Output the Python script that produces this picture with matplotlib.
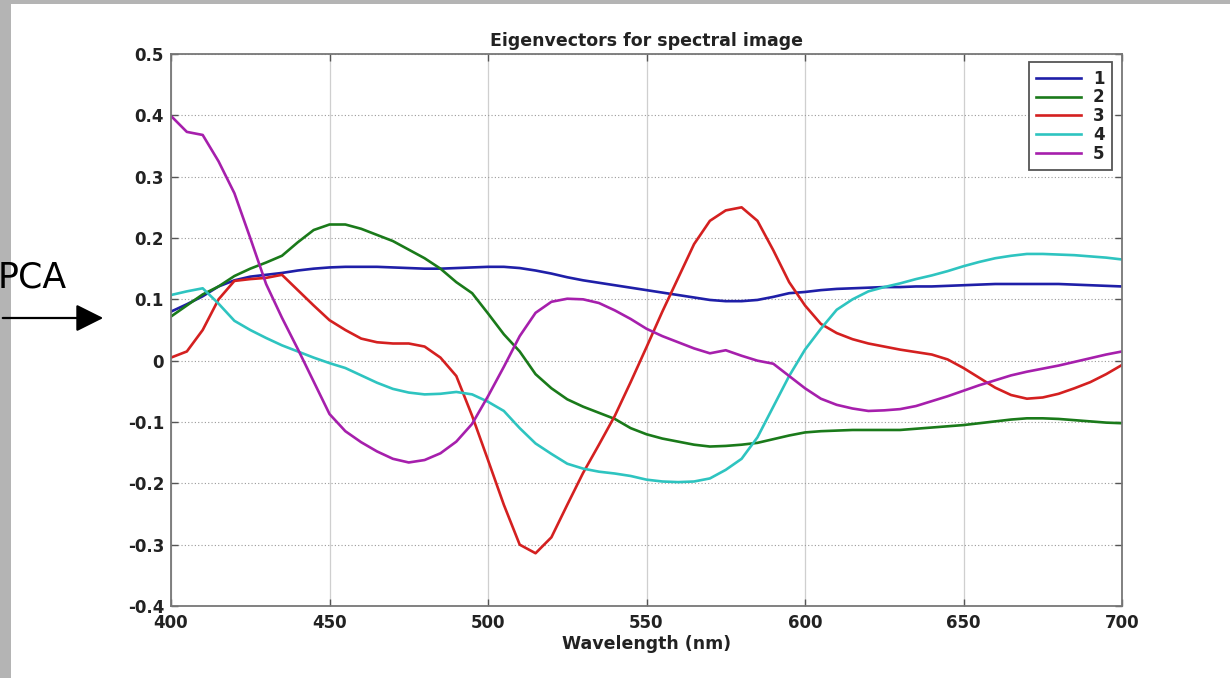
import matplotlib
matplotlib.use("Agg")
import matplotlib.pyplot as plt
from matplotlib.patches import Rectangle, FancyArrowPatch

# datos (cada 5 nm)
wavelength = list(range(400, 701, 5))

ev1 = [0.080, 0.092, 0.105, 0.121, 0.131, 0.137, 0.140, 0.143, 0.147, 0.150,
       0.152, 0.153, 0.153, 0.153, 0.152, 0.151, 0.150, 0.150, 0.151, 0.152,
       0.153, 0.153, 0.151, 0.147, 0.142, 0.136, 0.131, 0.127, 0.123, 0.119,
       0.115, 0.111, 0.107, 0.103, 0.099, 0.097, 0.097, 0.099, 0.104, 0.110,
       0.112, 0.115, 0.117, 0.118, 0.119, 0.120, 0.120, 0.121, 0.121, 0.122,
       0.123, 0.124, 0.125, 0.125, 0.125, 0.125, 0.125, 0.124, 0.123, 0.122,
       0.121]

ev2 = [0.072, 0.090, 0.108, 0.121, 0.138, 0.150, 0.160, 0.171, 0.193, 0.213,
       0.222, 0.222, 0.215, 0.205, 0.195, 0.181, 0.167, 0.150, 0.128, 0.110,
       0.077, 0.043, 0.015, -0.022, -0.045, -0.063, -0.075, -0.085, -0.095, -0.110,
       -0.120, -0.127, -0.132, -0.137, -0.140, -0.139, -0.137, -0.134, -0.128, -0.122,
       -0.117, -0.115, -0.114, -0.113, -0.113, -0.113, -0.113, -0.111, -0.109, -0.107,
       -0.105, -0.102, -0.099, -0.096, -0.094, -0.094, -0.095, -0.097, -0.099, -0.101,
       -0.102]

ev3 = [0.005, 0.015, 0.050, 0.100, 0.130, 0.133, 0.135, 0.140, 0.115, 0.090,
       0.066, 0.050, 0.036, 0.030, 0.028, 0.028, 0.023, 0.005, -0.025, -0.090,
       -0.162, -0.235, -0.300, -0.314, -0.288, -0.235, -0.183, -0.137, -0.090, -0.035,
       0.022, 0.080, 0.135, 0.190, 0.228, 0.245, 0.250, 0.228, 0.180, 0.128,
       0.090, 0.060, 0.045, 0.035, 0.028, 0.023, 0.018, 0.014, 0.010, 0.002,
       -0.012, -0.028, -0.044, -0.056, -0.062, -0.060, -0.054, -0.045, -0.035, -0.022,
       -0.007]

ev4 = [0.107, 0.113, 0.118, 0.093, 0.065, 0.050, 0.037, 0.025, 0.015, 0.005,
       -0.004, -0.012, -0.024, -0.036, -0.046, -0.052, -0.055, -0.054, -0.051, -0.055,
       -0.067, -0.082, -0.110, -0.135, -0.152, -0.168, -0.176, -0.181, -0.184, -0.188,
       -0.194, -0.197, -0.198, -0.197, -0.192, -0.178, -0.160, -0.125, -0.075, -0.025,
       0.018, 0.052, 0.083, 0.100, 0.113, 0.120, 0.126, 0.133, 0.139, 0.146,
       0.154, 0.161, 0.167, 0.171, 0.174, 0.174, 0.173, 0.172, 0.170, 0.168,
       0.165]

ev5 = [0.399, 0.373, 0.368, 0.325, 0.273, 0.200, 0.125, 0.070, 0.019, -0.034,
       -0.087, -0.115, -0.133, -0.148, -0.160, -0.166, -0.162, -0.151, -0.132, -0.103,
       -0.058, -0.010, 0.040, 0.078, 0.096, 0.101, 0.100, 0.094, 0.082, 0.068,
       0.052, 0.040, 0.030, 0.020, 0.012, 0.017, 0.008, 0.000, -0.005, -0.025,
       -0.045, -0.062, -0.072, -0.078, -0.082, -0.081, -0.079, -0.074, -0.066, -0.058,
       -0.049, -0.040, -0.032, -0.024, -0.018, -0.013, -0.008, -0.002, 0.004, 0.010,
       0.015]

series = [ev1, ev2, ev3, ev4, ev5]
labels = ["1", "2", "3", "4", "5"]
colors = ["#1f1fa8", "#1a7a1a", "#d42020", "#2ec4c0", "#a61fac"]

plt.rcParams["font.family"] = ["DejaVu Sans"]

fig = plt.figure(figsize=(12.3, 6.78), dpi=100)
fig.patch.set_facecolor("white")

# borde gris de la diapositiva
fig.patches.append(Rectangle((0, 0), 11 / 1230, 1, transform=fig.transFigure,
                             facecolor="#b4b4b4", edgecolor="none", zorder=0))
fig.patches.append(Rectangle((0, 1 - 4 / 678), 1, 4 / 678, transform=fig.transFigure,
                             facecolor="#b4b4b4", edgecolor="none", zorder=0))

ax = fig.add_axes([171 / 1230, 1 - 606 / 678, 951 / 1230, 552 / 678])

for y, lab, c in zip(series, labels, colors):
    ax.plot(wavelength, y, color=c, linewidth=1.9, label=lab)

ax.set_xlim(400, 700)
ax.set_ylim(-0.4, 0.5)
ax.set_xticks([400, 450, 500, 550, 600, 650, 700])
ax.set_yticks([-0.4, -0.3, -0.2, -0.1, 0, 0.1, 0.2, 0.3, 0.4, 0.5])
ax.set_yticklabels(["-0.4", "-0.3", "-0.2", "-0.1", "0", "0.1", "0.2", "0.3", "0.4", "0.5"])

ax.xaxis.grid(True, color="#cfcfcf", linestyle="-", linewidth=0.9)
ax.yaxis.grid(True, color="#9a9a9a", linestyle=(0, (1, 2)), linewidth=0.8)
ax.set_axisbelow(True)

ax.tick_params(direction="in", length=5, width=1, color="#555555",
               top=True, right=True, labelsize=12)
ax.tick_params(axis="x", pad=6)
ax.tick_params(axis="y", pad=5)
for lbl in ax.get_xticklabels() + ax.get_yticklabels():
    lbl.set_fontweight("bold")
    lbl.set_color("#222222")
for sp in ax.spines.values():
    sp.set_color("#777777")
    sp.set_linewidth(1.3)

ax.set_title("Eigenvectors for spectral image", fontsize=12.5, fontweight="bold",
             pad=6, color="#222222")
ax.set_xlabel("Wavelength (nm)", fontsize=12.5, fontweight="bold", labelpad=2,
              color="#222222")

leg = ax.legend(loc="upper right", bbox_to_anchor=(0.9895, 0.9855), fontsize=12,
                handlelength=2.7, labelspacing=0.05, borderpad=0.45,
                handletextpad=0.7, borderaxespad=0, fancybox=False, framealpha=1)
leg.get_frame().set_edgecolor("#555555")
leg.get_frame().set_linewidth(1.3)
for t in leg.get_texts():
    t.set_fontweight("bold")
    t.set_color("#222222")

# texto y flecha de la diapositiva
fig.text(-2 / 1230, 1 - 278 / 678, "PCA", fontsize=25, family="DejaVu Sans",
         va="center", ha="left", color="black")
fig.patches.append(FancyArrowPatch((0, 1 - 318 / 678), (106 / 1230, 1 - 318 / 678),
                                   transform=fig.transFigure, arrowstyle="-|>",
                                   mutation_scale=42, color="black", linewidth=1.6))

fig.savefig("out.png", dpi=100)
